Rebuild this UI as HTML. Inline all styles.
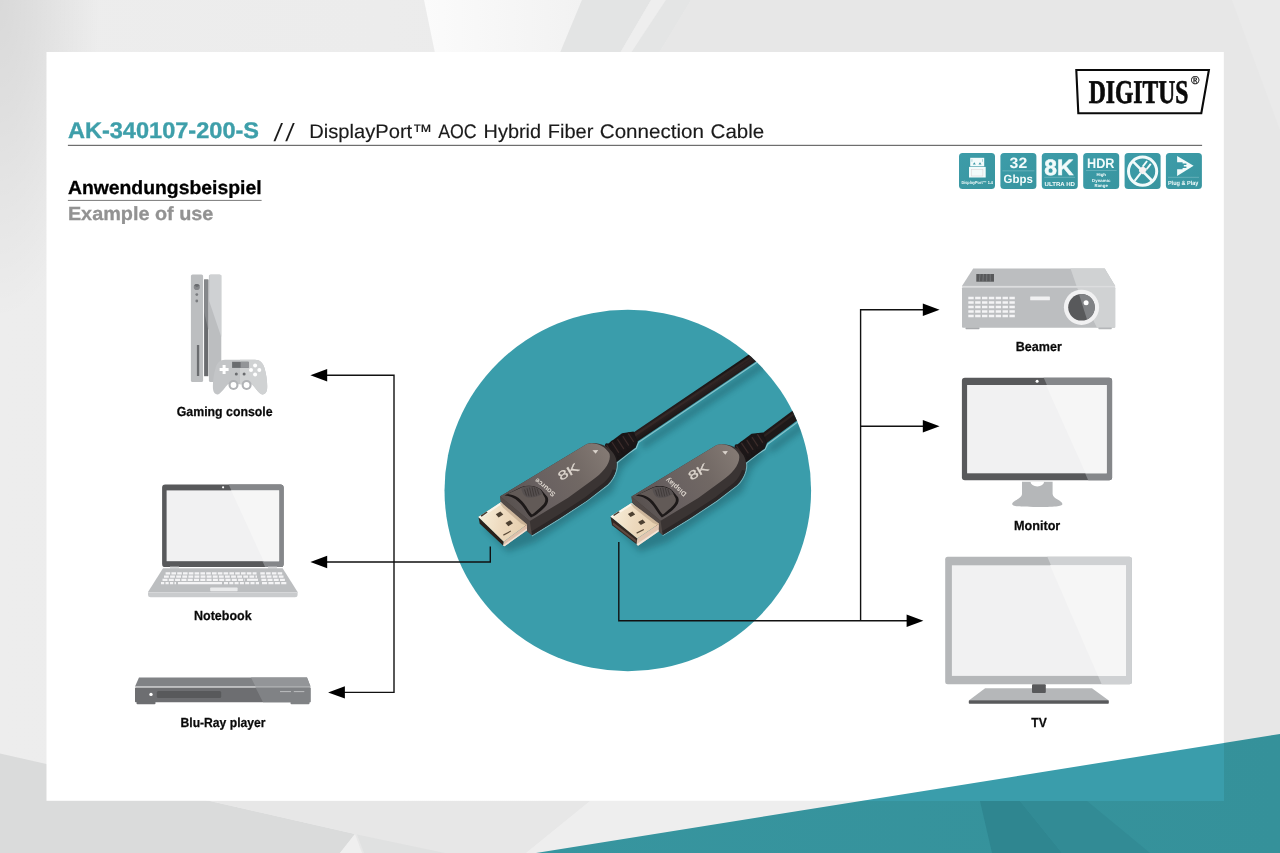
<!DOCTYPE html>
<html lang="de">
<head>
<meta charset="utf-8">
<title>AK-340107-200-S // DisplayPort AOC Hybrid Fiber Connection Cable</title>
<style>
html,body{margin:0;padding:0;width:1280px;height:853px;overflow:hidden;background:#e8e8e8;}
svg{position:absolute;left:0;top:0;display:block;will-change:transform;}
text{text-rendering:geometricPrecision;}
text{font-family:"Liberation Sans",sans-serif;}
.b{font-weight:bold;}
.serif{font-family:"Liberation Serif",serif;font-weight:bold;}
</style>
</head>
<body>
<svg width="1280" height="853" viewBox="0 0 1280 853">
<defs>
  <linearGradient id="bgL" x1="0" y1="0" x2="1" y2="0">
    <stop offset="0" stop-color="#ededed"/>
    <stop offset="0.3" stop-color="#ececec"/>
    <stop offset="1" stop-color="#e7e7e7"/>
  </linearGradient>
  <radialGradient id="tlshade" gradientUnits="userSpaceOnUse" cx="0" cy="0" r="100" gradientTransform="scale(1 3.2)">
    <stop offset="0" stop-color="#000000" stop-opacity="0.085"/>
    <stop offset="0.35" stop-color="#000000" stop-opacity="0.06"/>
    <stop offset="1" stop-color="#000000" stop-opacity="0"/>
  </radialGradient>
  <linearGradient id="wedge" x1="0" y1="0" x2="1" y2="0">
    <stop offset="0" stop-color="#fbfbfb"/>
    <stop offset="1" stop-color="#f2f2f2"/>
  </linearGradient>
  <linearGradient id="tealbg" x1="0" y1="0" x2="1" y2="0">
    <stop offset="0" stop-color="#37959f"/>
    <stop offset="1" stop-color="#35919a"/>
  </linearGradient>
  <clipPath id="panelclip"><rect x="46" y="52" width="1178" height="749"/></clipPath>
</defs>
<!-- background -->
<g id="background">
  <rect x="0" y="0" width="1280" height="853" fill="url(#bgL)"/>
  <rect x="0" y="0" width="110" height="340" fill="url(#tlshade)"/>
  <polygon points="424,0 582,0 560,53 435,53" fill="url(#wedge)"/>
  <polygon points="582,0 651,0 620,53 560,53" fill="#e3e4e4"/>
  <polygon points="651,0 666,0 631,53 620,53" fill="#eeeeee"/>
  <polygon points="666,0 691,0 659,53 631,53" fill="#e4e5e5"/>
  <polygon points="691,0 1280,0 1280,853 1224,853 1224,53 659,53" fill="#e7e7e7"/>
  <polygon points="1232,0 1280,0 1280,130" fill="#eaeaea"/>
  <!-- bottom-left darker facet -->
  <polygon points="0,753.5 210,801 355,834 340,853 0,853" fill="#dadbdb"/>
  <polygon points="355,834 362,853 340,853" fill="#efefef"/>
  <polygon points="210,801 590,801 526,853 362,853 355,834" fill="#e7e7e7"/>
  <polygon points="357,834.5 445,853 364,853" fill="#e0e1e1"/>
  <polygon points="590,801 1224,801 1224,853 526,853" fill="#eeeeee"/>
  <!-- teal triangle (outside panel) -->
  <polygon points="536,853 1280,734 1280,853" fill="url(#tealbg)"/>
  <polygon points="980,801 1020,801 1062,853 992,853" fill="#2f8690"/>
  <polygon points="1020,801 1087,801 1150,853 1062,853" fill="#328b95"/>
</g>
<!-- white panel -->
<rect x="46.5" y="52" width="1177.3" height="748.8" fill="#ffffff"/>
<polygon points="536,853 1280,734 1280,853" fill="#3a9dab" clip-path="url(#panelclip)"/>
<!-- header -->
<g id="header">
  <text x="67.9" y="138.1" class="b" font-size="22.7" fill="#3e9faa" stroke="#3e9faa" stroke-width="0.35" textLength="191.2" lengthAdjust="spacingAndGlyphs">AK-340107-200-S</text>
  <text x="273.6" y="140.6" font-size="25" fill="#1a1a1a" transform="translate(273.6 140.6) skewX(-8) translate(-273.6 -140.6)"><tspan x="273.6">/</tspan><tspan x="285.3">/</tspan></text>
  <text y="138.1" font-size="19.6" fill="#1a1a1a" stroke="#1a1a1a" stroke-width="0.15"><tspan x="309.3" textLength="123" lengthAdjust="spacingAndGlyphs">DisplayPort™</tspan> <tspan x="438.2" textLength="38.5" lengthAdjust="spacingAndGlyphs">AOC</tspan> <tspan x="483.6" textLength="57.5" lengthAdjust="spacingAndGlyphs">Hybrid</tspan> <tspan x="547.8" textLength="45.6" lengthAdjust="spacingAndGlyphs">Fiber</tspan> <tspan x="599.8" textLength="104.2" lengthAdjust="spacingAndGlyphs">Connection</tspan> <tspan x="710.6" textLength="53.6" lengthAdjust="spacingAndGlyphs">Cable</tspan></text>
  <rect x="67.9" y="144.8" width="1134.2" height="1.1" fill="#5f5f5f"/>
  <text x="67.9" y="194" class="b" font-size="19" fill="#000000" stroke="#000000" stroke-width="0.3" textLength="193.7" lengthAdjust="spacingAndGlyphs">Anwendungsbeispiel</text>
  <rect x="67.9" y="199.9" width="193.7" height="1" fill="#7a7a7a"/>
  <text x="67.9" y="219.7" class="b" font-size="19" fill="#929292" stroke="#929292" stroke-width="0.3" textLength="145.5" lengthAdjust="spacingAndGlyphs">Example of use</text>
</g>
<!-- logo -->
<g id="logo">
  <polygon points="1076.3,70 1208.9,70 1201.3,113.3 1078.3,113.3" fill="#ffffff" stroke="#0a0a0a" stroke-width="2.1" stroke-linejoin="miter"/>
  <text x="1088.8" y="102.7" class="serif" font-size="33.1" fill="#0a0a0a" stroke="#0a0a0a" stroke-width="0.7" textLength="99.5" lengthAdjust="spacingAndGlyphs">DIGITUS</text>
  <text x="1195.1" y="83.7" font-size="11.4" fill="#0a0a0a" stroke="#0a0a0a" stroke-width="0.25" text-anchor="middle">®</text>
</g>
<!-- feature icons -->
<defs>
  <linearGradient id="icg" x1="0" y1="0" x2="1" y2="1">
    <stop offset="0" stop-color="#3d9ca9"/>
    <stop offset="1" stop-color="#38959f"/>
  </linearGradient>
</defs>
<g id="icons" fill="#f2fbfb">
  <!-- 1 DisplayPort 1.4 -->
  <rect x="959" y="153" width="36" height="36.1" rx="3.6" fill="url(#icg)"/>
  <rect x="970.2" y="157.8" width="14" height="8.5" fill="#f2fbfb"/>
  <rect x="969" y="166.9" width="16.7" height="10.6" fill="#f2fbfb"/>
  <polygon points="972.8,164.6 974.3,162.2 975.8,164.6" fill="#3a99a6"/>
  <polygon points="978.5,164.6 980,162.2 981.5,164.6" fill="#3a99a6"/>
  <rect x="971.6" y="159.2" width="0.7" height="2.6" fill="#8cc5cc"/><rect x="982.1" y="159.2" width="0.7" height="2.6" fill="#8cc5cc"/>
  <rect x="971.5" y="169.4" width="11.4" height="6.6" fill="none" stroke="#d9cfd2" stroke-width="0.5"/>
  <text x="977.2" y="184.4" class="b" font-size="4.4" text-anchor="middle" textLength="31.6" lengthAdjust="spacingAndGlyphs">DisplayPort™ 1.4</text>
  <!-- 2 32 Gbps -->
  <rect x="1000.4" y="153" width="36" height="36.1" rx="3.6" fill="url(#icg)"/>
  <text x="1009.6" y="167.9" class="b" font-size="15" textLength="17.6" lengthAdjust="spacingAndGlyphs">32</text>
  <rect x="1002.4" y="170.6" width="32" height="0.6" fill="#7fbec6"/>
  <text x="1003.6" y="182.9" class="b" font-size="11.8" textLength="29.3" lengthAdjust="spacingAndGlyphs">Gbps</text>
  <!-- 3 8K ULTRA HD -->
  <rect x="1041.8" y="153" width="36" height="36.1" rx="3.6" fill="url(#icg)"/>
  <text x="1044.3" y="175.2" class="b" font-size="22.1" textLength="29.2" lengthAdjust="spacingAndGlyphs" stroke="#f2fbfb" stroke-width="0.5">8K</text>
  <rect x="1044.3" y="176.9" width="30.8" height="0.6" fill="#7fbec6"/>
  <text x="1044.6" y="185.5" class="b" font-size="5.7" textLength="30.3" lengthAdjust="spacingAndGlyphs">ULTRA HD</text>
  <!-- 4 HDR -->
  <rect x="1083.2" y="153" width="36" height="36.1" rx="3.6" fill="url(#icg)"/>
  <text x="1087" y="167.8" class="b" font-size="13.7" textLength="27.4" lengthAdjust="spacingAndGlyphs">HDR</text>
  <rect x="1086" y="170.3" width="30.6" height="0.6" fill="#7fbec6"/>
  <text x="1101.2" y="176.4" class="b" font-size="4.3" text-anchor="middle" textLength="9.6" lengthAdjust="spacingAndGlyphs">High</text>
  <text x="1101.2" y="181.6" class="b" font-size="4.3" text-anchor="middle" textLength="18.3" lengthAdjust="spacingAndGlyphs">Dynamic</text>
  <text x="1101.2" y="186.8" class="b" font-size="4.3" text-anchor="middle" textLength="13.2" lengthAdjust="spacingAndGlyphs">Range</text>
  <!-- 5 no external power -->
  <rect x="1124.6" y="153" width="36" height="36.1" rx="3.6" fill="url(#icg)"/>
  <circle cx="1142.6" cy="171.2" r="14.1" fill="none" stroke="#f2fbfb" stroke-width="3"/>
  <line x1="1132.4" y1="160.9" x2="1152.8" y2="181.5" stroke="#f2fbfb" stroke-width="2.6"/>
  <g transform="translate(1142.9,170.2) rotate(-52)">
    <rect x="-3.4" y="-3" width="6.6" height="6" rx="1.2" fill="#f7f1f1"/>
    <rect x="-13.5" y="-1.1" width="10.5" height="2.2" fill="#f2fbfb"/>
    <rect x="3" y="-3.3" width="6.8" height="1.9" fill="#f2fbfb"/>
    <rect x="3" y="1.4" width="6.8" height="1.9" fill="#f2fbfb"/>
  </g>
  <!-- 6 Plug & Play -->
  <rect x="1165.9" y="153" width="36" height="36.1" rx="3.6" fill="url(#icg)"/>
  <polygon points="1177.1,155.9 1193.6,165.7 1177.1,176" fill="#f2fbfb"/>
  <path d="M1176,162.2 H1182.6 V163.4 H1186.4 V164.9 H1183.8 V166.6 H1186.4 V168.1 H1182.6 V169.3 H1176 Z" fill="#3a99a6"/>
  <rect x="1168" y="176.9" width="31" height="0.6" fill="#7fbec6"/>
  <text x="1167.9" y="185" class="b" font-size="6" textLength="30.5" lengthAdjust="spacingAndGlyphs">Plug &amp; Play</text>
</g>
<!-- product circle -->
<defs>
  <clipPath id="circ"><ellipse cx="627.8" cy="490.5" rx="183.3" ry="180.7"/></clipPath>
</defs>
<ellipse cx="627.8" cy="490.5" rx="183.3" ry="180.7" fill="#3a9dab"/>
<!--CABLE-->
<!-- cable photo (vector approximation) -->
<defs>
  <filter id="blur3" x="-20%" y="-20%" width="140%" height="140%"><feGaussianBlur stdDeviation="3"/></filter>
  <filter id="blur1" x="-20%" y="-20%" width="140%" height="140%"><feGaussianBlur stdDeviation="1.2"/></filter>
  <filter id="blur05" x="-20%" y="-20%" width="140%" height="140%"><feGaussianBlur stdDeviation="0.5"/></filter>
  <linearGradient id="topface" gradientUnits="userSpaceOnUse" x1="510" y1="505" x2="608" y2="450">
    <stop offset="0" stop-color="#595250"/>
    <stop offset="0.3" stop-color="#686060"/>
    <stop offset="0.65" stop-color="#716864"/>
    <stop offset="1" stop-color="#847a74"/>
  </linearGradient>
  <linearGradient id="gold" gradientUnits="userSpaceOnUse" x1="482" y1="516" x2="525" y2="528">
    <stop offset="0" stop-color="#f6ecd6"/>
    <stop offset="0.5" stop-color="#edd9bd"/>
    <stop offset="1" stop-color="#e6cfae"/>
  </linearGradient>
  <linearGradient id="gold2" gradientUnits="userSpaceOnUse" x1="614" y1="515" x2="657" y2="527">
    <stop offset="0" stop-color="#f6ecd6"/>
    <stop offset="0.5" stop-color="#edd9bd"/>
    <stop offset="1" stop-color="#e6cfae"/>
  </linearGradient>
  <linearGradient id="cab" gradientUnits="userSpaceOnUse" x1="690" y1="392" x2="697" y2="403">
    <stop offset="0" stop-color="#141212"/>
    <stop offset="0.45" stop-color="#2c2222"/>
    <stop offset="1" stop-color="#1a1616"/>
  </linearGradient>
  </defs>
<g id="cablephoto" clip-path="url(#circ)">
  <!-- soft shadows -->
  <g filter="url(#blur3)" opacity="0.33" fill="#0f3b44" stroke="#0f3b44">
    <line x1="642" y1="446" x2="770" y2="360" stroke-width="7" />
    <line x1="770" y1="450" x2="805" y2="424" stroke-width="7"/>
    <polygon points="484,528 508,552 536,542 612,492 622,468 640,450 618,452 560,500" stroke="none"/>
    <polygon points="616,528 640,552 668,542 742,492 752,468 770,450 748,452 690,500" stroke="none"/>
  </g>
  <!-- cable 1 -->
  <g>
    <polyline points="616.8,463 628.6,453.6 636.2,448.2 638.4,442.6 770,353.4" fill="none" stroke="#b9e0e5" stroke-width="1.2" opacity="0.6" stroke-linejoin="round"/>
    <line x1="631" y1="440.1" x2="770" y2="346" stroke="url(#cab)" stroke-width="9.7"/>
    <line x1="631" y1="438" x2="770" y2="343.9" stroke="#44322f" stroke-width="2.2" opacity="0.4"/>
    <polygon points="605,446 622,433.2 633.6,431.6 637.8,442 635.6,447.6 616.4,462.3" fill="#191516"/>
    <g fill="#1c1718">
      <ellipse cx="611.1" cy="451.9" rx="3.67" ry="9.86" transform="rotate(-32.9 611.1 451.9)"/>
      <ellipse cx="616.2" cy="448.6" rx="3.67" ry="9.18" transform="rotate(-32.9 616.2 448.6)"/>
      <ellipse cx="621.4" cy="445.3" rx="3.67" ry="8.50" transform="rotate(-32.9 621.4 445.3)"/>
      <ellipse cx="626.5" cy="442.0" rx="3.67" ry="7.82" transform="rotate(-32.9 626.5 442.0)"/>
      <ellipse cx="631.6" cy="438.7" rx="3.67" ry="7.14" transform="rotate(-32.9 631.6 438.7)"/>
    </g>
    <g stroke="#43312f" stroke-width="1.2" fill="none" opacity="0.8" stroke-linecap="round"><line x1="606.8" y1="445.3" x2="613.6" y2="455.9"/><line x1="612.2" y1="442.5" x2="618.6" y2="452.3"/><line x1="617.7" y1="439.6" x2="623.6" y2="448.7"/><line x1="623.1" y1="436.7" x2="628.5" y2="445.1"/><line x1="628.5" y1="433.9" x2="633.5" y2="441.5"/></g>
  </g>
  <!-- cable 2 -->
  <g>
    <polyline points="746,463.4 757.6,454.2 765,449.4 767.6,444.2 805,416.4" fill="none" stroke="#b9e0e5" stroke-width="1.2" opacity="0.6" stroke-linejoin="round"/>
    <line x1="760" y1="441.6" x2="805" y2="408" stroke="#1e1919" stroke-width="10.4"/>
    <line x1="760" y1="439.1" x2="805" y2="405.5" stroke="#44322f" stroke-width="2.2" opacity="0.4"/>
    <polygon points="734.6,446.4 751.6,433.8 762.8,432.4 767,442.8 764.8,448.4 745.6,462.8" fill="#191516"/>
    <g fill="#1c1718">
      <ellipse cx="740.7" cy="452.6" rx="3.59" ry="9.67" transform="rotate(-33.3 740.7 452.6)"/>
      <ellipse cx="745.7" cy="449.3" rx="3.59" ry="9.01" transform="rotate(-33.3 745.7 449.3)"/>
      <ellipse cx="750.7" cy="446.0" rx="3.59" ry="8.35" transform="rotate(-33.3 750.7 446.0)"/>
      <ellipse cx="755.7" cy="442.7" rx="3.59" ry="7.69" transform="rotate(-33.3 755.7 442.7)"/>
      <ellipse cx="760.7" cy="439.4" rx="3.59" ry="7.03" transform="rotate(-33.3 760.7 439.4)"/>
    </g>
    <g stroke="#43312f" stroke-width="1.2" fill="none" opacity="0.8" stroke-linecap="round"><line x1="736.5" y1="446.1" x2="743.2" y2="456.4"/><line x1="741.7" y1="443.3" x2="748.1" y2="452.9"/><line x1="747.0" y1="440.4" x2="752.9" y2="449.4"/><line x1="752.3" y1="437.6" x2="757.7" y2="445.8"/><line x1="757.6" y1="434.7" x2="762.6" y2="442.3"/></g>
  </g>
  <!-- connectors -->
  <g id="connector-source">
    <path d="M531.9,536 L560,518.8 L586.9,501.1 L608,485 C612.2,481 615,476.4 616.7,470.2 C617.6,466.6 617.6,464.6 617.2,462.6" fill="none" stroke="#bfe3e7" stroke-width="1.1" opacity="0.5"/>
    <!-- side face -->
    <path d="M500.2,496.3 L586.9,443.9 C596,441.3 607,444.5 613.5,453.5 C616.8,458 617.6,464 616,470 C614.3,476 611.5,480.5 607.5,484.5 L586.9,500.4 L560,518.1 L531.9,535.3 L527,531 L500.9,502.3 Z" fill="#3a3433"/>
    <path d="M531.9,535.3 L560,518.1 L586.9,500.4 L607.5,484.5 C611.5,480.5 614.3,476 616,470 L612.6,469.4 C610.8,474.6 608.4,478.4 604.6,482 L585.2,497.2 L559,514.5 L531.3,531.5 Z" fill="#2b2626"/>
    <!-- front face -->
    <polygon points="500.2,496.3 529.8,520.9 531.9,535.3 527,531 527,524.5 500.9,502.3" fill="#524a47"/>
    <!-- top face -->
    <path d="M500.2,496.3 L586.9,443.9 C595,441.5 604.5,445.5 609.2,453 C611,457 609,463.5 604.7,468.8 C601,473.5 597,476.8 592.5,480 L568.1,497.8 L529.8,520.9 Z" fill="url(#topface)"/>
    <!-- latch shadow + latch -->
    <path d="M504.5,495.6 C511,495.5 517.5,499.5 522,505.5 C525.5,510 528,515 531,517.5 C535,516 540.5,511.5 544.5,507.5 C548,504 549,500 547.5,497 L541,489.5 C536,485.5 528,484.5 521.5,487 Z" fill="#1d1919"/>
    <path d="M507,494.3 C513,493.8 519.5,497.5 524,503.5 C527.5,508 529.5,512.5 532,514.6 C535,512.4 539,509 542.3,505.6 C545,502.8 546,500 544.8,497.6 L540.5,490 C535.5,486 528,485.3 521.5,487.5 Z" fill="#625a57"/>
    <path d="M521.5,487.5 C528,485.3 535.5,486 540.5,490 L543,493.4 C538,496.5 531,498.5 526.5,497 C523.5,495.5 521.5,491.5 521.5,487.5 Z" fill="#565050"/>
    <g stroke="#3b3534" stroke-width="0.8" fill="none">
      <line x1="524.5" y1="489.5" x2="526.5" y2="495.5"/><line x1="527" y1="488.3" x2="529" y2="496.3"/><line x1="529.5" y1="487.6" x2="531.5" y2="496.5"/><line x1="532" y1="487.3" x2="534" y2="496.2"/><line x1="534.5" y1="487.6" x2="536.5" y2="495.5"/><line x1="537" y1="488.5" x2="539" y2="494.5"/>
    </g>
    <!-- direction marker -->
    <polygon points="592.4,450.3 598.2,449.9 595.7,453.8" fill="#d9d2cb"/>
  </g>
  <g id="connector-display" transform="translate(610.1 517) scale(0.983) translate(-478.4 -517.1)">
    <path d="M531.9,536 L560,518.8 L586.9,501.1 L608,485 C612.2,481 615,476.4 616.7,470.2 C617.6,466.6 617.6,464.6 617.2,462.6" fill="none" stroke="#bfe3e7" stroke-width="1.1" opacity="0.5"/>
    <!-- side face -->
    <path d="M500.2,496.3 L586.9,443.9 C596,441.3 607,444.5 613.5,453.5 C616.8,458 617.6,464 616,470 C614.3,476 611.5,480.5 607.5,484.5 L586.9,500.4 L560,518.1 L531.9,535.3 L527,531 L500.9,502.3 Z" fill="#3a3433"/>
    <path d="M531.9,535.3 L560,518.1 L586.9,500.4 L607.5,484.5 C611.5,480.5 614.3,476 616,470 L612.6,469.4 C610.8,474.6 608.4,478.4 604.6,482 L585.2,497.2 L559,514.5 L531.3,531.5 Z" fill="#2b2626"/>
    <!-- front face -->
    <polygon points="500.2,496.3 529.8,520.9 531.9,535.3 527,531 527,524.5 500.9,502.3" fill="#524a47"/>
    <!-- top face -->
    <path d="M500.2,496.3 L586.9,443.9 C595,441.5 604.5,445.5 609.2,453 C611,457 609,463.5 604.7,468.8 C601,473.5 597,476.8 592.5,480 L568.1,497.8 L529.8,520.9 Z" fill="url(#topface)"/>
    <!-- latch shadow + latch -->
    <path d="M504.5,495.6 C511,495.5 517.5,499.5 522,505.5 C525.5,510 528,515 531,517.5 C535,516 540.5,511.5 544.5,507.5 C548,504 549,500 547.5,497 L541,489.5 C536,485.5 528,484.5 521.5,487 Z" fill="#1d1919"/>
    <path d="M507,494.3 C513,493.8 519.5,497.5 524,503.5 C527.5,508 529.5,512.5 532,514.6 C535,512.4 539,509 542.3,505.6 C545,502.8 546,500 544.8,497.6 L540.5,490 C535.5,486 528,485.3 521.5,487.5 Z" fill="#625a57"/>
    <path d="M521.5,487.5 C528,485.3 535.5,486 540.5,490 L543,493.4 C538,496.5 531,498.5 526.5,497 C523.5,495.5 521.5,491.5 521.5,487.5 Z" fill="#565050"/>
    <g stroke="#3b3534" stroke-width="0.8" fill="none">
      <line x1="524.5" y1="489.5" x2="526.5" y2="495.5"/><line x1="527" y1="488.3" x2="529" y2="496.3"/><line x1="529.5" y1="487.6" x2="531.5" y2="496.5"/><line x1="532" y1="487.3" x2="534" y2="496.2"/><line x1="534.5" y1="487.6" x2="536.5" y2="495.5"/><line x1="537" y1="488.5" x2="539" y2="494.5"/>
    </g>
    <!-- direction marker -->
    <polygon points="592.4,450.3 598.2,449.9 595.7,453.8" fill="#d9d2cb"/>
  </g>
  <g id="plug1">
    <!-- metal plug -->
    <polygon points="478.4,517.1 479.8,523.8 503.1,545.6 503.8,541.7" fill="#2a2019"/>
    <polygon points="503.8,541.7 527,524.5 527,530.3 504.5,546.3 503.1,545.6" fill="#dfc0aa"/>
    <polygon points="504.2,544.6 527,528.4 527,530.3 504.5,546.3 503.1,545.6" fill="#f1e3d6"/>
    <polygon points="478.4,517.1 500.9,502.3 527,524.5 503.8,541.7" fill="url(#gold)"/>
    <polygon points="478.4,517.1 500.9,502.3 502.5,503.6 480.2,518.6" fill="#fbf5ea"/>
    <polygon points="500.9,502.3 527,524.5 527,526 521,523.5 503,507.5 499.8,503.2" fill="#b59c84" opacity="0.55"/>
    <polygon points="480.5,515.6 486.5,511.6 487.6,512.6 481.6,516.7" fill="#4a3f33"/>
    <polygon points="495.8,514.2 500.4,511.5 503.3,514.6 498.6,517.5" fill="#4d4132"/>
    <polygon points="505.5,522.9 510.1,520.2 513,523.3 508.3,526.2" fill="#4d4132"/>
    <polygon points="503.1,534.6 510.6,530.6 511,531.6 503.6,535.7" fill="#5a4a38"/>
  </g>
  <g id="plug2">
    <!-- metal plug 2 -->
    <polygon points="610.5,516.4 612,525.2 636.6,544.3 637.3,538.5" fill="#33261f"/>
    <polygon points="612.6,524.6 636.4,543 636.8,540.6 613.4,522.4" fill="#6a5348" opacity="0.8"/>
    <polygon points="637.3,538.5 659.1,523.8 658.6,531.5 638,545.8 636.6,544.3" fill="#e2c6b0"/>
    <polygon points="637.7,543.6 658.7,529.5 658.6,531.5 638,545.8 636.6,544.3" fill="#f3e6da"/>
    <polygon points="610.5,516.4 631.6,503 659.1,523.8 637.3,538.5" fill="url(#gold2)"/>
    <polygon points="610.5,516.4 631.6,503 633.2,504.2 612.3,517.8" fill="#fbf5ea"/>
    <polygon points="631.6,503 659.1,523.8 659,525.4 653,523 634,508 630.6,504" fill="#b59c84" opacity="0.55"/>
    <polygon points="613,515 618.6,511.3 619.7,512.3 614.1,516.1" fill="#4a3f33"/>
    <polygon points="627.9,514 632.4,511.4 635.2,514.4 630.6,517.1" fill="#4d4132"/>
    <polygon points="638.1,522 642.6,519.4 645.4,522.4 640.8,525.1" fill="#4d4132"/>
    <polygon points="636.4,532.6 643.6,528.9 644,529.9 636.9,533.7" fill="#5a4a38"/>
  </g>

  <!-- printing on connectors -->
  <g fill="#ddd6ce" stroke="#ddd6ce">
    <text transform="translate(561.1 481.1) rotate(-31)" font-size="12.4" x="0" y="0" textLength="22" lengthAdjust="spacingAndGlyphs" stroke-width="0.25">8K</text>
    <text transform="translate(556 493.4) rotate(220)" class="b" font-size="7.2" x="0" y="0" textLength="24.6" lengthAdjust="spacingAndGlyphs" stroke-width="0">Source</text>
    <text transform="translate(691.2 480.8) rotate(-31)" font-size="12.2" x="0" y="0" textLength="21.6" lengthAdjust="spacingAndGlyphs" stroke-width="0.25">8K</text>
    <text transform="translate(686.9 493.2) rotate(220)" class="b" font-size="7.1" x="0" y="0" textLength="24.6" lengthAdjust="spacingAndGlyphs" stroke-width="0">Display</text>
  </g>
</g>
<!-- Gaming console -->
<g id="console">
  <rect x="190.9" y="274.5" width="12.2" height="107.5" rx="1.6" fill="#bcbec0"/>
  <rect x="208.9" y="274.5" width="12.4" height="107.5" rx="1.6" fill="#bcbec0"/>
  <polygon points="209.5,275 221.3,275 221.3,337 209.2,301" fill="#cfd1d3"/>
  <rect x="204.1" y="279.6" width="4.2" height="96.6" fill="#6a6c6f"/>
  <polygon points="204.1,279.6 208.3,279.6 208.3,330 204.1,312" fill="#85878a"/>
  <circle cx="196.8" cy="287" r="3.1" fill="#85878a"/>
  <path d="M194.2,285.4 A3.1,3.1 0 0 1 199.6,285.8 L196.8,287 Z" fill="#6a6c6f"/>
  <circle cx="196.8" cy="294.6" r="1.4" fill="#7a7c7f"/>
  <circle cx="196.8" cy="301" r="1.4" fill="#7a7c7f"/>
  <rect x="196.9" y="345" width="2.3" height="31" fill="#6a6c6f"/>
  <!-- controller -->
  <path d="M225,359.8 L255,359.8 C260,359.8 263,363 264.5,368 C266.5,375 267.6,383 267.1,389 C266.8,393 264,395.2 261.5,394.2 C258,392.7 255,387 252,384.3 L228,384.3 C225,387 222,392.7 218.5,394.2 C216,395.2 213.3,393 213,389 C212.5,383 213.6,375 215.6,368 C217,363 220,359.8 225,359.8 Z" fill="#c3c5c7"/>
  <path d="M240,359.8 L255,359.8 C260,359.8 263,363 264.5,368 C266.5,375 267.6,383 267.1,389 C266.8,393 264,395.2 261.5,394.2 C258,392.7 255,387 252,384.3 L240,384.3 Z" fill="#d0d2d3"/>
  <rect x="232.1" y="361.8" width="16.5" height="6.1" fill="#6a6c6f"/>
  <rect x="240.6" y="361.8" width="8" height="6.1" fill="#939598"/>
  <path d="M222.6,365 h3 v3 h3 v3 h-3 v3 h-3 v-3 h-3 v-3 h3 Z" fill="#ffffff"/>
  <circle cx="236.3" cy="373.9" r="1.5" fill="#6a6c6f"/>
  <circle cx="244.1" cy="373.9" r="1.5" fill="#6a6c6f"/>
  <circle cx="255.1" cy="365.6" r="2" fill="#ffffff"/>
  <circle cx="251" cy="370.1" r="2" fill="#ffffff"/>
  <circle cx="259.3" cy="370.1" r="2" fill="#ffffff"/>
  <circle cx="255.1" cy="374.6" r="2" fill="#ffffff"/>
  <circle cx="233.5" cy="385" r="5" fill="#b1b3b6"/>
  <circle cx="246.6" cy="385" r="5" fill="#b1b3b6"/>
  <circle cx="233.5" cy="385" r="2.9" fill="#ffffff"/>
  <circle cx="246.6" cy="385" r="2.9" fill="#ffffff"/>
</g>
<text x="176.8" y="415.9" class="b" font-size="13.1" fill="#0a0a0a" stroke="#0a0a0a" stroke-width="0.25" textLength="95.8" lengthAdjust="spacingAndGlyphs">Gaming console</text>

<!-- Notebook -->
<g id="notebook">
  <defs><clipPath id="nbframe"><rect x="162.1" y="484.5" width="121.5" height="82.6" rx="3.2"/></clipPath>
  <clipPath id="nbscreen"><rect x="166.6" y="490.4" width="112.5" height="70.8"/></clipPath></defs>
  <rect x="162.1" y="484.5" width="121.5" height="82.6" rx="3.2" fill="#58595b"/>
  <polygon points="228.5,484 284,484 284,568 265.5,568" fill="#85878a" clip-path="url(#nbframe)"/>
  <rect x="166.6" y="490.4" width="112.5" height="70.8" fill="#f1f1f2"/>
  <polygon points="231,490 280,490 280,562 264,562" fill="#f6f6f6" clip-path="url(#nbscreen)"/>
  <circle cx="223.1" cy="487.3" r="1.1" fill="#ffffff"/>
  <rect x="170" y="566.6" width="9" height="2.2" fill="#d9dadb"/>
  <rect x="268" y="566.6" width="9" height="2.2" fill="#d9dadb"/>
  <polygon points="163,568.3 282.6,568.3 297.6,592 148,592" fill="#bcbec0"/>
  <path d="M148,592 H297.6 V595 Q297.6,597.2 295,597.2 H150.6 Q148,597.2 148,595 Z" fill="#c9cbcd"/>
  <rect x="148" y="592" width="149.6" height="1" fill="#d6d7d9"/>
  <g stroke="#f4f4f5" stroke-width="2.2" fill="none">
    <line x1="165.6" y1="573.4" x2="256.5" y2="573.4" stroke-dasharray="4.6 1.2"/>
    <line x1="164" y1="576.6" x2="257" y2="576.6" stroke-dasharray="4.8 1.3"/>
    <line x1="162.5" y1="579.8" x2="245" y2="579.8" stroke-dasharray="5 1.3"/>
    <line x1="247" y1="579.8" x2="258" y2="579.8"/>
    <line x1="161" y1="583.1" x2="176" y2="583.1" stroke-dasharray="3.2 1.3"/>
    <line x1="178" y1="583.1" x2="222" y2="583.1"/>
    <line x1="224" y1="583.1" x2="259" y2="583.1" stroke-dasharray="4 1.3"/>
    <line x1="260.3" y1="573.4" x2="282.5" y2="573.4" stroke-dasharray="4.5 1.3"/>
    <line x1="260.8" y1="576.6" x2="284" y2="576.6" stroke-dasharray="4.7 1.3"/>
    <line x1="261.4" y1="579.8" x2="285.4" y2="579.8" stroke-dasharray="4.9 1.3"/>
    <line x1="262" y1="583.1" x2="286.8" y2="583.1" stroke-dasharray="5.1 1.3"/>
  </g>
  <rect x="210.2" y="587.6" width="27.4" height="3.6" rx="0.6" fill="#e9eaeb"/>
</g>
<text x="194" y="619.5" class="b" font-size="13.1" fill="#0a0a0a" stroke="#0a0a0a" stroke-width="0.25" textLength="57.6" lengthAdjust="spacingAndGlyphs">Notebook</text>

<!-- Blu-Ray player -->
<g id="bluray">
  <polygon points="139,677.5 307,677.5 310.5,686.6 135,686.6" fill="#808285"/>
  <polygon points="251,677.5 307,677.5 310.5,686.6 255.5,686.6" fill="#939598"/>
  <rect x="135" y="687.6" width="175.5" height="14.6" rx="0.8" fill="#6d6e71"/>
  <polygon points="255.5,687.6 310.5,687.6 310.5,702.2 263,702.2" fill="#808285"/>
  <rect x="136.5" y="701.6" width="19" height="2.6" rx="1" fill="#6d6e71"/>
  <rect x="290.5" y="701.6" width="19" height="2.6" rx="1" fill="#808285"/>
  <rect x="156.8" y="691" width="64.4" height="7" rx="1.6" fill="#58595b"/>
  <circle cx="151" cy="694.4" r="1.7" fill="#ffffff"/>
  <rect x="280" y="691" width="11" height="1.1" fill="#b5b7b9"/>
  <rect x="293.8" y="691" width="10.5" height="1.1" fill="#b5b7b9"/>
</g>
<text x="180.5" y="727" class="b" font-size="13.1" fill="#0a0a0a" stroke="#0a0a0a" stroke-width="0.25" textLength="85" lengthAdjust="spacingAndGlyphs">Blu-Ray player</text>
<!-- Beamer -->
<g id="beamer">
  <polygon points="973.2,268.6 1104.7,268.6 1115.2,286 962,286" fill="#bcbec0"/>
  <polygon points="1070.5,268.6 1104.7,268.6 1115.2,286 1076.5,286" fill="#d0d2d3"/>
  <rect x="962" y="287.3" width="153.2" height="40.4" rx="1" fill="#bcbec0"/>
  <polygon points="1076.8,287.3 1115.2,287.3 1115.2,327.7 1097,327.7" fill="#d0d2d3"/>
  <rect x="962" y="285.9" width="153.2" height="1.5" fill="#dcddde"/>
  <rect x="976.3" y="274" width="17.7" height="7.7" fill="#58595b"/>
  <g stroke="#808285" stroke-width="0.7"><line x1="980" y1="274" x2="979.3" y2="281.7"/><line x1="983.4" y1="274" x2="982.9" y2="281.7"/><line x1="986.8" y1="274" x2="986.6" y2="281.7"/><line x1="990.2" y1="274" x2="990.3" y2="281.7"/></g>
  <g stroke="#f4f4f5" stroke-width="2.5" stroke-dasharray="5.4 1.45" fill="none">
    <line x1="968.3" y1="298.1" x2="1015.8" y2="298.1"/>
    <line x1="968.3" y1="302.6" x2="1015.8" y2="302.6"/>
    <line x1="968.3" y1="307.1" x2="1015.8" y2="307.1"/>
    <line x1="968.3" y1="311.6" x2="1015.8" y2="311.6"/>
    <line x1="968.3" y1="316.1" x2="1015.8" y2="316.1"/>
  </g>
  <rect x="1030.2" y="296.4" width="19.7" height="3.9" rx="0.5" fill="#f1f1f2"/>
  <circle cx="1081.5" cy="307.3" r="17.6" fill="#f1f1f2"/>
  <circle cx="1081.5" cy="307.3" r="13.3" fill="#58595b"/>
  <path d="M1079,294.2 A13.3,13.3 0 0 1 1087,319.4 Z" fill="#808285"/>
  <circle cx="1086.1" cy="302.8" r="2.5" fill="#ffffff"/>
  <rect x="965.5" y="327.4" width="14" height="1.8" rx="0.6" fill="#a7a9ac"/>
  <rect x="1098.4" y="327.4" width="13.4" height="1.8" rx="0.6" fill="#b5b7b9"/>
</g>
<text x="1015.8" y="350.6" class="b" font-size="13.1" fill="#0a0a0a" stroke="#0a0a0a" stroke-width="0.25" textLength="46" lengthAdjust="spacingAndGlyphs">Beamer</text>

<!-- Monitor -->
<g id="monitor">
  <defs><clipPath id="monframe"><rect x="961.9" y="377.7" width="150.2" height="102.6" rx="3"/></clipPath>
  <clipPath id="monscreen"><rect x="967.1" y="385" width="139.6" height="88.3"/></clipPath></defs>
  <rect x="961.9" y="377.7" width="150.2" height="102.6" rx="3" fill="#58595b"/>
  <polygon points="1043.4,377 1113,377 1113,481 1088.5,481" fill="#85878a" clip-path="url(#monframe)"/>
  <rect x="967.1" y="385" width="139.6" height="88.3" fill="#f1f1f2"/>
  <polygon points="1046,385 1107,385 1107,474 1086,474" fill="#f6f6f6" clip-path="url(#monscreen)"/>
  <circle cx="1037.1" cy="381.2" r="1.5" fill="#ffffff"/>
  <path d="M1022,481.8 H1052.6 V494 C1053,499 1062.4,500.5 1062.4,504 C1062.4,506 1058,507 1037.3,507 C1016.6,507 1012.2,506 1012.2,504 C1012.2,500.5 1021.6,499 1022,494 Z" fill="#b5b7b9"/>
  <path d="M1030.5,481.8 A6.8,4.6 0 0 0 1044.1,481.8 Z" fill="#ffffff"/>
</g>
<text x="1013.9" y="529.9" class="b" font-size="13.1" fill="#0a0a0a" stroke="#0a0a0a" stroke-width="0.25" textLength="46.4" lengthAdjust="spacingAndGlyphs">Monitor</text>

<!-- TV -->
<g id="tv">
  <defs><clipPath id="tvframe"><rect x="945.2" y="556.7" width="186.7" height="127.5" rx="2.5"/></clipPath>
  <clipPath id="tvscreen"><rect x="951.9" y="565.3" width="174.1" height="110.6"/></clipPath></defs>
  <rect x="945.2" y="556.7" width="186.7" height="127.5" rx="2.5" fill="#b5b7b9"/>
  <polygon points="1047,556 1133,556 1133,685 1102,685" fill="#cfd1d3" clip-path="url(#tvframe)"/>
  <rect x="951.9" y="565.3" width="174.1" height="110.6" fill="#f1f1f2"/>
  <polygon points="1050,565 1127,565 1127,676 1098,676" fill="#f6f6f6" clip-path="url(#tvscreen)"/>
  <polygon points="985.1,688.2 1092,688.2 1108.8,700.4 968.8,700.4" fill="#b5b7b9"/>
  <rect x="968.8" y="700.2" width="140" height="3.5" rx="0.8" fill="#58595b"/>
  <rect x="1032" y="684.2" width="13.8" height="8.8" rx="1" fill="#58595b"/>
</g>
<text x="1031.3" y="726.7" class="b" font-size="13.1" fill="#0a0a0a" stroke="#0a0a0a" stroke-width="0.25" textLength="15.5" lengthAdjust="spacingAndGlyphs">TV</text>
<!-- connection lines and arrows -->
<g id="arrows" fill="none" stroke="#111111" stroke-width="1.4" stroke-linejoin="miter">
  <polyline points="327,375.2 394,375.2 394,692.4 344,692.4"/>
  <polyline points="490.3,546.5 490.3,562 327,562"/>
  <polyline points="618.8,542 618.8,620.7 907,620.7"/>
  <polyline points="923,309.7 860.6,309.7 860.6,620.7"/>
  <line x1="860.6" y1="426.3" x2="923" y2="426.3"/>
</g>
<g id="arrowheads" fill="#000000">
  <polygon points="310.4,375.2 327.2,369 327.2,381.4"/>
  <polygon points="310.4,562 327.2,555.8 327.2,568.2"/>
  <polygon points="328.1,692.4 344.9,686.2 344.9,698.6"/>
  <polygon points="939.6,309.7 922.8,303.5 922.8,315.9"/>
  <polygon points="939.6,426.3 922.8,420.1 922.8,432.5"/>
  <polygon points="923.4,620.7 906.6,614.5 906.6,626.9"/>
</g>
</svg>
</body>
</html>
